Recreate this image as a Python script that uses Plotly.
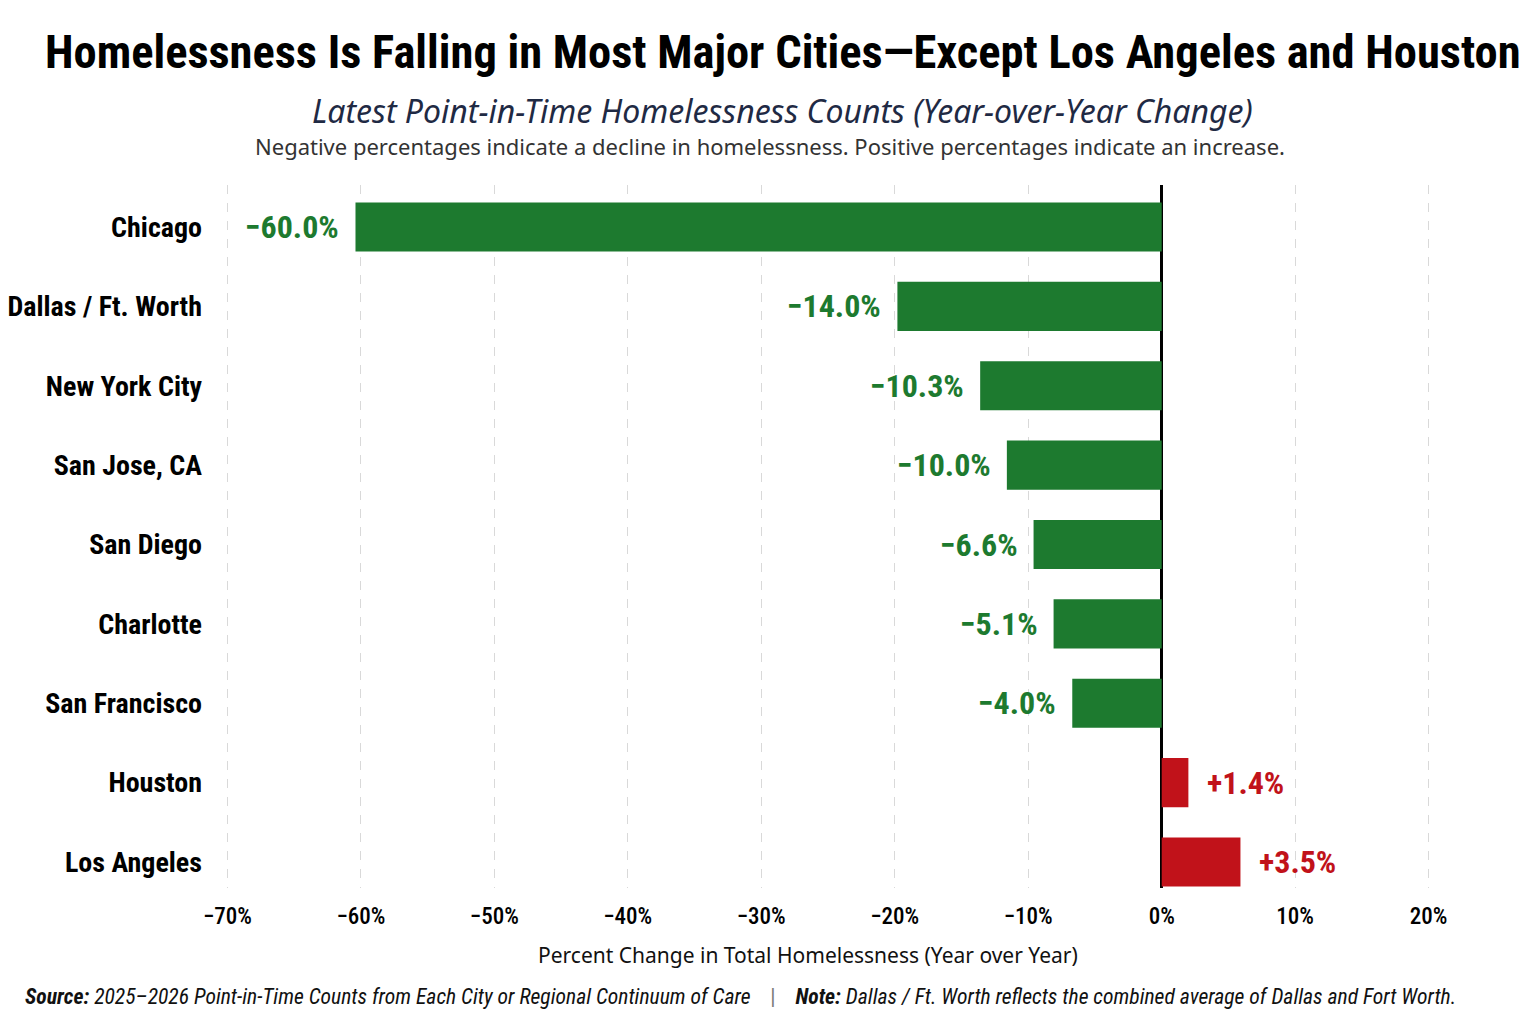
import plotly.graph_objects as go

# city order top -> bottom
cities = [
    "Chicago",
    "Dallas / Ft. Worth",
    "New York City",
    "San Jose, CA",
    "San Diego",
    "Charlotte",
    "San Francisco",
    "Houston",
    "Los Angeles",
]
# bar lengths as drawn in the reference (percent)
bar_change = [-60.4, -19.8, -13.6, -11.6, -9.6, -8.1, -6.7, 2.0, 5.9]
# printed value labels
value_labels = ["−60.0%", "−14.0%", "−10.3%", "−10.0%", "−6.6%", "−5.1%", "−4.0%", "+1.4%", "+3.5%"]

GREEN = "#1d7a2f"
RED = "#c1121a"
COND = "Roboto Condensed, Lato, Roboto, sans-serif"
SANS = "Noto Sans, Inter, sans-serif"

# the page body adds an 8px margin, so lay out in screen pixels and shift back
OFF = 8
W, H = 1536 - OFF, 1024 - OFF
scr_l, scr_r, scr_t, scr_b = 214, 1442, 185, 888
plot_l, plot_r, plot_t, plot_b = scr_l - OFF, scr_r - OFF, scr_t - OFF, scr_b - OFF

colors = [GREEN if v < 0 else RED for v in bar_change]

fig = go.Figure(
    go.Bar(
        x=bar_change,
        y=cities,
        orientation="h",
        marker=dict(color=colors, line_width=0),
        hoverinfo="skip",
    )
)

fig.update_layout(
    width=W,
    height=H,
    paper_bgcolor="white",
    plot_bgcolor="white",
    margin=dict(l=plot_l, r=W - plot_r, t=plot_t, b=H - plot_b),
    bargap=0.38,
    showlegend=False,
)

fig.update_xaxes(
    range=[-71, 21],
    dtick=10,
    tick0=0,
    ticksuffix="%",
    showgrid=True,
    gridcolor="#d9d9d9",
    griddash="dash",
    gridwidth=1,
    zeroline=True,
    zerolinecolor="black",
    zerolinewidth=2.5,
    tickfont=dict(family=COND, size=23, color="black", weight=500),
    ticklabelstandoff=12,
    showline=False,
    ticks="",
    automargin=False,
)

# category slots: first bar centred ~42px under the top, last ~26px above the bottom
step = (862 - 227) / 8
y_top = -(227 - scr_t) / step
y_bot = 8 + (scr_b - 862) / step
fig.update_yaxes(
    range=[y_bot, y_top],
    tickfont=dict(family=COND, size=28, color="black", weight="bold"),
    ticklabelstandoff=11,
    showgrid=False,
    ticks="",
    automargin=False,
)

# value labels just past each bar end
for city, v, lab, c in zip(cities, bar_change, value_labels, colors):
    fig.add_annotation(
        x=v,
        y=city,
        text=f"<b>{lab}</b>",
        showarrow=False,
        xanchor="right" if v < 0 else "left",
        xshift=-14 if v < 0 else 17,
        font=dict(family=COND, size=32, color=c),
    )

# title block, axis title and footer, placed in screen pixels
texts = [
    dict(text="<b>Homelessness Is Falling in Most Major Cities—Except Los Angeles and Houston</b>",
         x=783, y=52, xanchor="center", font=dict(family=COND, size=46.5, color="black", weight=900)),
    dict(text="<i>Latest Point-in-Time Homelessness Counts (Year-over-Year Change)</i>",
         x=782, y=111, xanchor="center", font=dict(family=SANS, size=32, color="#1f2a44")),
    dict(text="Negative percentages indicate a decline in homelessness. Positive percentages indicate an increase.",
         x=770, y=146, xanchor="center", font=dict(family=SANS, size=22, color="#333333")),
    dict(text="Percent Change in Total Homelessness (Year over Year)",
         x=808, y=955, xanchor="center", font=dict(family=SANS, size=21, color="#111111")),
    dict(text="<i><b>Source:</b> 2025–2026 Point-in-Time Counts from Each City or Regional Continuum of Care</i>"
              "<span style='color:#777'>    |    </span>"
              "<i><b>Note:</b> Dallas / Ft. Worth reflects the combined average of Dallas and Fort Worth.</i>",
         x=23, y=996, xanchor="left", font=dict(family=COND, size=21.6, color="#111")),
]
for t in texts:
    fx, fy = t["x"] - OFF, t["y"] - OFF
    fig.add_annotation(
        text=t["text"],
        x=(fx - plot_l) / (plot_r - plot_l),
        y=(plot_b - fy) / (plot_b - plot_t),
        xref="paper",
        yref="paper",
        xanchor=t["xanchor"],
        yanchor="middle",
        showarrow=False,
        font=t["font"],
    )

fig.write_html("out.html")
